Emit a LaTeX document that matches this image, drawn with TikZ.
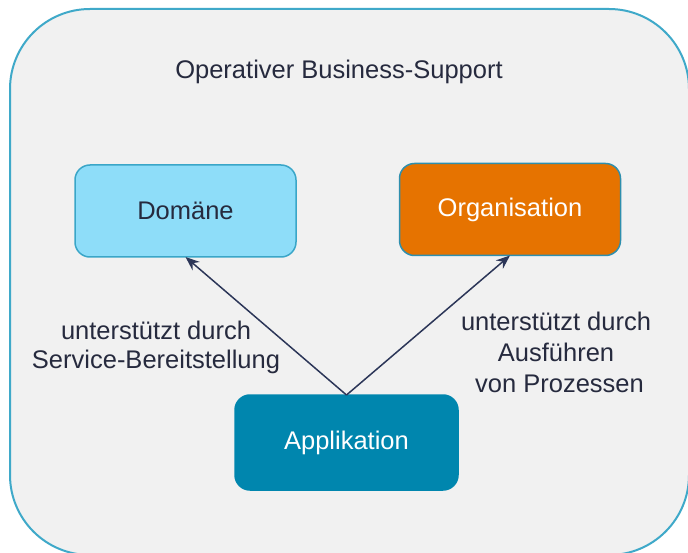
\documentclass[tikz,border=0pt]{standalone}
\usepackage{fontspec}
\setmainfont{Liberation Sans}
\usetikzlibrary{arrows.meta}
\definecolor{bgc}{HTML}{F1F1F1}
\definecolor{outerline}{HTML}{3FA9C9}
\definecolor{domfill}{HTML}{8EDDF9}
\definecolor{domline}{HTML}{3AA6C8}
\definecolor{orgfill}{HTML}{E67300}
\definecolor{orgline}{HTML}{2E8FAE}
\definecolor{appfill}{HTML}{0086AE}
\definecolor{arrowc}{HTML}{2C3658}
\definecolor{txt}{HTML}{262A3E}
\begin{document}
\begin{tikzpicture}[x=1pt,y=-1pt,
  every node/.style={font=\fontsize{25.5}{30}\selectfont, text=txt, inner sep=0pt, outer sep=0pt},
  boxstyle/.style={rounded corners=15pt, minimum width=221pt, minimum height=92pt, line width=1.5pt},
  arr/.style={draw=arrowc, line width=1.5pt, -{Stealth[length=14pt,width=11pt]}},
  lbl/.style={align=center}]
\useasboundingbox (0,0) rectangle (688,553);
\fill[white] (0,0) rectangle (688,553);
\begin{scope}
\clip (0,0) rectangle (688,553);
\node[draw=outerline, fill=bgc, line width=2pt, rounded corners=80pt,
      minimum width=679pt, minimum height=546pt, anchor=north west] (outer) at (10,9) {};
\end{scope}
\node[anchor=base] (title) at (339,79) {Operativer Business-Support};
\node[boxstyle, draw=domline, fill=domfill] (dom) at (185.5,211) {Domäne};
\node[boxstyle, draw=orgline, fill=orgfill, text=white] (org) at (510,209.5) {Organisation};
\node[boxstyle, draw=appfill, fill=appfill, text=white, minimum width=223pt, minimum height=95pt] (app) at (346.5,442.5) {Applikation};
\draw[arr] (app.north) -- (dom.south);
\draw[arr] (app.north) -- (org.south);
\node[lbl, font=\fontsize{25.5}{29}\selectfont] (lbl1) at (156,347) {unterstützt durch\\Service-Bereitstellung};
\node[lbl, font=\fontsize{25.5}{31}\selectfont] (lbl2) at (556,352) {unterstützt durch\\Ausführen\\\ von Prozessen};
\end{tikzpicture}
\end{document}
